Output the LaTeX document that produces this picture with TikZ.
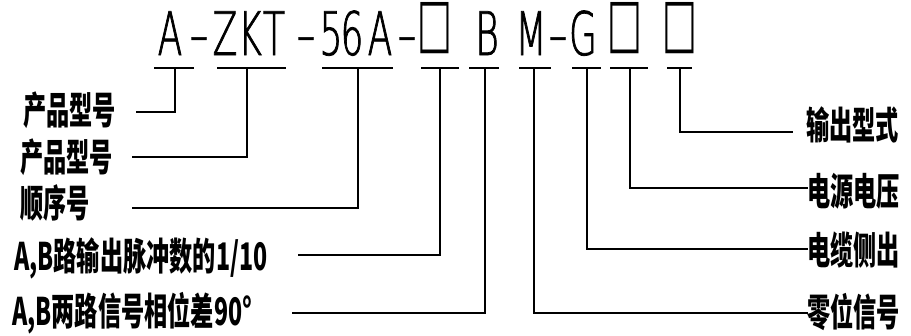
\documentclass[tikz,border=0pt]{standalone}
\usepackage{fontspec}
\newfontfamily\cjk[FakeStretch=0.61]{Noto Sans CJK SC}
\newfontfamily\codefont[FakeStretch=0.6,FakeBold=1.2]{DejaVu Sans ExtraLight}
\newfontfamily\boxfont[FakeStretch=0.55]{DejaVu Sans}
\begin{document}
\begin{tikzpicture}[x=1pt,y=-1pt,
  wire/.style={line width=1.6pt,line cap=rect},
  codechar/.style={inner sep=0pt,anchor=base,font=\codefont\fontsize{60}{60}\selectfont},
  boxchar/.style={inner sep=0pt,anchor=south,font=\boxfont\fontsize{67}{67}\selectfont},
  lbl/.style={inner sep=0pt,font=\cjk\bfseries\fontsize{38}{38}\selectfont}]
\useasboundingbox (0,0) rectangle (911,335);
% top code string
\foreach \c/\x [count=\i] in {A/170,–/199,Z/225,K/250,T/274,–/306,5/331,6/352,A/380,–/407,B/487,M/531,–/558,G/583}
  \node[codechar] (t\i) at (\x,55) {\c};
\foreach \x [count=\i] in {435,625,680}
  \node[boxchar] (q\i) at (\x,54) {□};
% bars
\foreach \a/\b/\v [count=\i] in {155/193/175,218/285/247,323/392/358,422/458/440,470/498/485,520/550/534,573/600/587,611/647/630,668/691/680}{
  \coordinate (bl\i) at (\a,68);
  \coordinate (br\i) at (\b,68);
  \coordinate (bv\i) at (\v,68);
  \draw[wire] (bl\i) -- (br\i);
}
% line ends
\coordinate (e1) at (137,112);
\coordinate (e2) at (133,157);
\coordinate (e3) at (133,208);
\coordinate (e4) at (299,255);
\coordinate (e5) at (293,313);
\coordinate (e6) at (807,313);
\coordinate (e7) at (807,249);
\coordinate (e8) at (807,188);
\coordinate (e9) at (792,132);
\foreach \i in {1,...,9}
  \draw[wire] (e\i) -| (bv\i);
% labels
\node[lbl,anchor=west] (l1) at (23,110) {产品型号};
\node[lbl,anchor=west] (l2) at (20,157) {产品型号};
\node[lbl,anchor=west] (l3) at (20,203) {顺序号};
\node[lbl,anchor=west] (l4) at (14,258) {A,B路输出脉冲数的1/10};
\node[lbl,anchor=west] (l5) at (12,313) {A,B两路信号相位差90°};
\node[lbl,anchor=west] (r1) at (806,125) {输出型式};
\node[lbl,anchor=west] (r2) at (807,191) {电源电压};
\node[lbl,anchor=west] (r3) at (807,250) {电缆侧出};
\node[lbl,anchor=west] (r4) at (807,312) {零位信号};
\end{tikzpicture}
\end{document}
